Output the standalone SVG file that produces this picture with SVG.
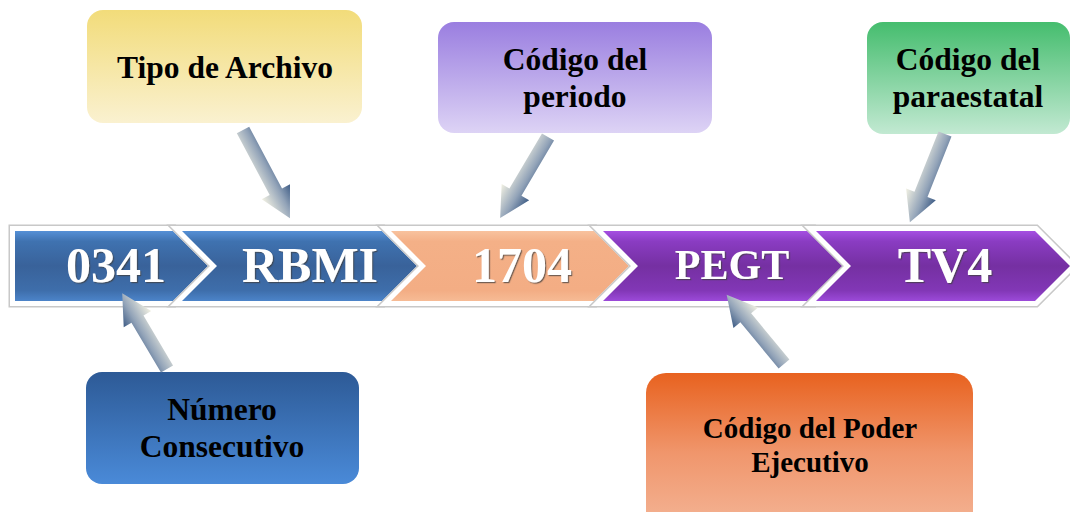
<svg xmlns="http://www.w3.org/2000/svg" width="1070" height="512" viewBox="0 0 1070 512">
<defs>
  <linearGradient id="gBlue" x1="0" y1="0" x2="0" y2="1">
    <stop offset="0" stop-color="#5590d6"/>
    <stop offset="0.15" stop-color="#3f72b0"/>
    <stop offset="0.5" stop-color="#39629a"/>
    <stop offset="0.85" stop-color="#3e6eab"/>
    <stop offset="1" stop-color="#4c84c9"/>
  </linearGradient>
  <linearGradient id="gPeach" x1="0" y1="0" x2="0" y2="1">
    <stop offset="0" stop-color="#f8c29e"/>
    <stop offset="0.15" stop-color="#f4b087"/>
    <stop offset="0.85" stop-color="#f3ad84"/>
    <stop offset="1" stop-color="#f6bb95"/>
  </linearGradient>
  <linearGradient id="gPurple" x1="0" y1="0" x2="0" y2="1">
    <stop offset="0" stop-color="#a54fe2"/>
    <stop offset="0.15" stop-color="#8a3cc2"/>
    <stop offset="0.5" stop-color="#7530a2"/>
    <stop offset="0.85" stop-color="#8237b6"/>
    <stop offset="1" stop-color="#9c4ad9"/>
  </linearGradient>
  <linearGradient id="gYellow" x1="0" y1="0" x2="0" y2="1">
    <stop offset="0" stop-color="#f2dc7a"/>
    <stop offset="1" stop-color="#faf1d0"/>
  </linearGradient>
  <linearGradient id="gLav" x1="0" y1="0" x2="0" y2="1">
    <stop offset="0" stop-color="#9a7ee0"/>
    <stop offset="1" stop-color="#ddd3f5"/>
  </linearGradient>
  <linearGradient id="gGreen" x1="0" y1="0" x2="0" y2="1">
    <stop offset="0" stop-color="#45bd6e"/>
    <stop offset="1" stop-color="#c2e9d2"/>
  </linearGradient>
  <linearGradient id="gNavy" x1="0" y1="0" x2="0" y2="1">
    <stop offset="0" stop-color="#2d5a96"/>
    <stop offset="1" stop-color="#4a8ad8"/>
  </linearGradient>
  <linearGradient id="gOrange" x1="0" y1="0" x2="0" y2="1">
    <stop offset="0" stop-color="#e8621f"/>
    <stop offset="0.5" stop-color="#f0966c"/>
    <stop offset="1" stop-color="#f4b698"/>
  </linearGradient>
  <linearGradient id="gArrow" gradientUnits="userSpaceOnUse" x1="0" y1="-16" x2="0" y2="16">
    <stop offset="0" stop-color="#3f5d86"/>
    <stop offset="0.4" stop-color="#92a3b8"/>
    <stop offset="1" stop-color="#f2f1e3"/>
  </linearGradient>
  <filter id="emboss" x="-10%" y="-10%" width="120%" height="130%">
    <feDropShadow dx="1.2" dy="1.2" stdDeviation="0.6" flood-color="#404040" flood-opacity="0.7"/>
  </filter>
</defs>
<style>
  .outline { fill: none; stroke: #c8c8c8; stroke-width: 13; stroke-linejoin: miter; }
  .chev { stroke: #ffffff; stroke-width: 10; stroke-linejoin: miter; paint-order: stroke; }
  .big { font-family: "Liberation Serif", "Times New Roman", serif; font-weight: bold; font-size: 50px; fill: #ffffff; text-anchor: middle; filter: url(#emboss); }
  .lbl { font-family: "Liberation Serif", "Times New Roman", serif; font-weight: bold; font-size: 31.5px; fill: #000000; text-anchor: middle; }
  .arrow { fill: url(#gArrow); }
</style>

<g id="process">
  <g id="chev1">
    <path class="outline" d="M15,231 L173,231 L208,266 L173,301 L15,301 Z"/>
    <path class="chev" fill="url(#gBlue)" d="M15,231 L173,231 L208,266 L173,301 L15,301 Z"/>
    <text class="big" x="116" y="282">0341</text>
  </g>
  <g id="chev2">
    <path class="outline" d="M182,231 L382,231 L417,266 L382,301 L182,301 L217,266 Z"/>
    <path class="chev" fill="url(#gBlue)" d="M182,231 L382,231 L417,266 L382,301 L182,301 L217,266 Z"/>
    <text class="big" x="310" y="282">RBMI</text>
  </g>
  <g id="chev3">
    <path class="outline" d="M391,231 L594,231 L629,266 L594,301 L391,301 L426,266 Z"/>
    <path class="chev" fill="url(#gPeach)" d="M391,231 L594,231 L629,266 L594,301 L391,301 L426,266 Z"/>
    <text class="big" x="522" y="282">1704</text>
  </g>
  <g id="chev4">
    <path class="outline" d="M603,231 L813,231 L848,266 L813,301 L603,301 L638,266 Z"/>
    <path class="chev" fill="url(#gPurple)" d="M603,231 L813,231 L848,266 L813,301 L603,301 L638,266 Z"/>
    <text class="big" x="732" y="279" style="font-size:42px">PEGT</text>
  </g>
  <g id="chev5">
    <path class="outline" d="M816,231 L1035,231 L1070,266 L1035,301 L816,301 L851,266 Z"/>
    <path class="chev" fill="url(#gPurple)" d="M816,231 L1035,231 L1070,266 L1035,301 L816,301 L851,266 Z"/>
    <text class="big" x="945" y="282">TV4</text>
  </g>
</g>

<g id="callout-tipo">
  <rect x="87" y="10" width="275" height="113" rx="16" fill="url(#gYellow)"/>
  <text class="lbl" x="225" y="78">Tipo de Archivo</text>
</g>
<g id="callout-periodo">
  <rect x="438" y="22" width="274" height="111" rx="16" fill="url(#gLav)"/>
  <text class="lbl" x="575" y="70">Código del</text>
  <text class="lbl" x="575" y="107">periodo</text>
</g>
<g id="callout-paraestatal">
  <rect x="867" y="22" width="203" height="112" rx="16" fill="url(#gGreen)"/>
  <text class="lbl" x="968" y="70">Código del</text>
  <text class="lbl" x="968" y="107">paraestatal</text>
</g>
<g id="callout-numero">
  <rect x="86" y="372" width="273" height="112" rx="16" fill="url(#gNavy)"/>
  <text class="lbl" x="222" y="420">Número</text>
  <text class="lbl" x="222" y="457">Consecutivo</text>
</g>
<g id="callout-poder">
  <rect x="646" y="373" width="327" height="160" rx="20" fill="url(#gOrange)"/>
  <text class="lbl" x="810" y="438" style="font-size:29px">Código del Poder</text>
  <text class="lbl" x="810" y="472" style="font-size:29px">Ejecutivo</text>
</g>

<g id="connectors">
  <path class="arrow" transform="translate(243,130) rotate(62)" d="M0,-7 L70,-7 L70,-16 L100,0 L70,16 L70,7 L0,7 Z"/>
  <path class="arrow" transform="translate(548,137) rotate(120.6)" d="M0,-7 L64,-7 L64,-16 L94,0 L64,16 L64,7 L0,7 Z"/>
  <path class="arrow" transform="translate(945,134) rotate(111.7)" d="M0,-7 L65,-7 L65,-16 L95,0 L65,16 L65,7 L0,7 Z"/>
  <path class="arrow" transform="translate(167,369) rotate(-120.6)" d="M0,-7 L58,-7 L58,-16 L88,0 L58,16 L58,7 L0,7 Z"/>
  <path class="arrow" transform="translate(784,364) rotate(-129.6)" d="M0,-7 L60,-7 L60,-16 L90,0 L60,16 L60,7 L0,7 Z"/>
</g>
</svg>
